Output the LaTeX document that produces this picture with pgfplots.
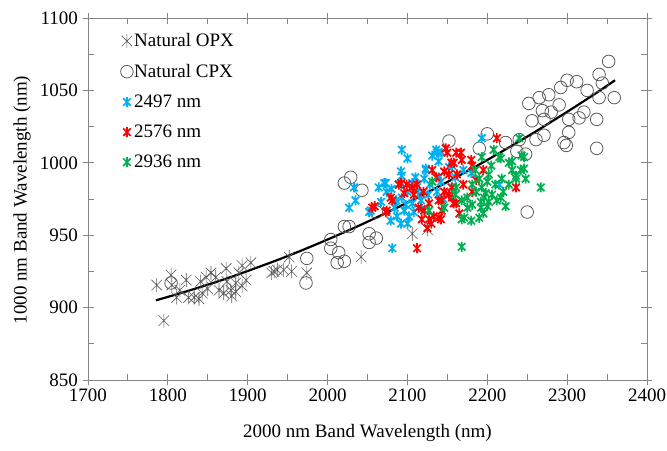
\documentclass[border=0pt]{standalone}
\usepackage{pgfplots}
\pgfplotsset{compat=1.18}
\usepackage{fontspec}
\setmainfont{Liberation Serif}
\definecolor{cblue}{HTML}{00B0F0}
\definecolor{cred}{HTML}{FF0000}
\definecolor{cgreen}{HTML}{00B050}
\definecolor{mgray}{HTML}{595959}
\definecolor{agray}{HTML}{868686}
\pgfdeclareplotmark{xstar}{%
  \pgfpathmoveto{\pgfqpoint{-0.75\pgfplotmarksize}{-0.75\pgfplotmarksize}}%
  \pgfpathlineto{\pgfqpoint{0.75\pgfplotmarksize}{0.75\pgfplotmarksize}}%
  \pgfpathmoveto{\pgfqpoint{-0.75\pgfplotmarksize}{0.75\pgfplotmarksize}}%
  \pgfpathlineto{\pgfqpoint{0.75\pgfplotmarksize}{-0.75\pgfplotmarksize}}%
  \pgfpathmoveto{\pgfqpoint{0pt}{-\pgfplotmarksize}}%
  \pgfpathlineto{\pgfqpoint{0pt}{\pgfplotmarksize}}%
  \pgfusepathqstroke}
\begin{document}%
\begin{tikzpicture}[font=\fontsize{19bp}{23bp}\selectfont]
\begin{axis}[
  scale only axis, width=559bp, height=362bp,
  xmin=1700, xmax=2400, ymin=850, ymax=1100,
  xtick={1700,1800,...,2400}, ytick={850,900,...,1100},
  minor x tick num=1, minor y tick num=1,
  tick align=inside, major tick length=6bp, minor tick length=6bp,
  extra x ticks={1700,1800,...,2400}, extra x tick labels={},
  extra y ticks={850,900,...,1100}, extra y tick labels={},
  extra tick style={tick align=outside, major tick length=5bp},
  axis line style={agray, line width=0.9bp},
  every tick/.style={agray, line width=0.9bp},
  /pgf/number format/assume math mode=true,
  /pgf/number format/1000 sep={},
  ticklabel style={font=\fontsize{19bp}{23bp}\selectfont, inner sep=0pt},
  xticklabel style={yshift=-9bp},
  yticklabel style={xshift=-10bp},
  xlabel={2000 nm Band Wavelength (nm)},
  ylabel={1000 nm Band Wavelength (nm)},
  xlabel style={at={(axis description cs:0.5,-0.146)}, anchor=center, font=\fontsize{19bp}{23bp}\selectfont},
  ylabel style={at={(axis description cs:-0.118,0.497)}, anchor=center, font=\fontsize{19bp}{23bp}\selectfont},
  legend style={at={(axis description cs:0.058,0.96)}, anchor=north west, draw=none, fill=none,
    font=\fontsize{19bp}{23bp}\selectfont, row sep=14bp, inner sep=0pt,
    nodes={inner sep=1bp}},
  legend cell align=left,
  legend image code/.code={\draw[#1] plot coordinates {(0.12cm,0cm)};},
  clip=false,
]
\addplot[only marks, mark=xstar, mark size=7bp, mgray, line width=0.6bp] coordinates {
(1786,915.6) (1795,891) (1804,922.5) (1805,915.6) (1811,907) (1823,919) (1826,907)
(1833,907) (1841,918) (1843,910) (1848,921) (1854,924) (1860,921) (1864,912)
(1873,927) (1874,918) (1879,912) (1885,917) (1889,924) (1893,929) (1898,919)
(1904,931) (1885,911) (1839,906) (1930,924) (1937,926) (1952,935) (1945,926)
(1933,925) (1955,925) (1974,924) (2042,935) (2106,951) (2125,954) (1870,910)
(1880,908) (1815,912) (1850,913) (1893,915)
};
\addlegendentry{Natural OPX}
\addplot[only marks, mark=o, mark size=6.3bp, mgray, line width=0.8bp] coordinates {
(1804,917) (1973,917) (1974,934) (2004,947) (2004,941) (2014,938) (2012,931)
(2021,932) (2021,956) (2027,956) (2029,990) (2021,986) (2043,981) (2061,966)
(2052,951) (2061,948) (2052,945) (2152,1015) (2190,1010) (2200,1020) (2223,1014)
(2240,1016) (2237,1008) (2248,1006) (2250,966) (2261,1016) (2271,1019) (2256,1029)
(2271,1030) (2296,1014) (2252,1041) (2265,1045) (2277,1047) (2269,1036) (2280,1035)
(2290,1040) (2292,1052) (2300,1057) (2312,1056) (2325,1050) (2340,1061) (2352,1070)
(2344,1055) (2340,1045) (2359,1045) (2302,1030) (2315,1031) (2321,1035) (2337,1030)
(2302,1021) (2299,1012) (2337,1010)
};
\addlegendentry{Natural CPX}
\addplot[only marks, mark=xstar, mark size=5bp, cblue, line width=1.7bp] coordinates {
(2093,1009) (2100,1003) (2092,994) (2033,983) (2035,974) (2027,969) (2064,983)
(2071,986) (2054,967) (2067,973) (2074,980) (2086,974) (2093,976) (2098,971)
(2087,963) (2092,958) (2102,963) (2081,941) (2123,995) (2121,989) (2131,1005)
(2137,1007) (2139,1001) (2112,983) (2114,978) (2106,972) (2108,966) (2117,974)
(2096,967) (2052,966) (2073,986) (2093,991) (2193,1017) (2143,1007) (2156,998)
(2142,987) (2215,985) (2136,1009) (2123,996) (2139,990) (2106,986) (2152,997)
(2155,983) (2137,980) (2080,982) (2090,985) (2100,980) (2110,990) (2128,985)
(2084,969) (2079,960) (2100,958) (2118,968) (2145,975) (2160,990) (2170,995)
(2180,993) (2126,978)
};
\addlegendentry{2497 nm}
\addplot[only marks, mark=xstar, mark size=5bp, cred, line width=1.7bp] coordinates {
(2148,1010) (2150,1007) (2056,969) (2074,967) (2079,976) (2089,985) (2099,985)
(2106,983) (2112,985) (2096,979) (2108,978) (2131,995) (2136,990) (2146,994)
(2152,992) (2114,969) (2121,967) (2127,961) (2118,961) (2133,963) (2139,962)
(2127,972) (2139,974) (2143,967) (2152,978) (2158,972) (2112,941) (2156,983)
(2158,1000) (2161,1007) (2059,970) (2073,966) (2081,974) (2092,986) (2212,1017)
(2167,1007) (2168,1002) (2155,1000) (2180,1002) (2181,998) (2162,992) (2186,988)
(2236,983) (2146,980) (2156,976) (2143,974) (2161,972) (2142,961) (2181,980)
(2125,955) (2130,958) (2170,985) (2195,995) (2120,980) (2165,965)
};
\addlegendentry{2576 nm}
\addplot[only marks, mark=xstar, mark size=5bp, cgreen, line width=1.7bp] coordinates {
(2240,1017) (2208,1009) (2215,1004) (2193,1004) (2227,1000) (2246,1004) (2231,995)
(2242,995) (2248,989) (2236,989) (2267,983) (2227,985) (2218,989) (2202,992)
(2190,989) (2200,987) (2193,983) (2181,985) (2186,980) (2175,976) (2198,979)
(2206,978) (2212,974) (2202,973) (2192,973) (2181,971) (2168,974) (2175,969)
(2192,969) (2200,970) (2217,976) (2168,961) (2171,962) (2190,962) (2168,942)
(2223,970) (2196,976) (2127,967) (2146,969) (2131,987) (2161,983) (2243,1005)
(2231,1001) (2217,1003) (2236,991) (2246,996) (2185,995) (2210,985) (2220,980)
(2195,965) (2180,960) (2160,978) (2205,998)
};
\addlegendentry{2936 nm}
\addplot[black, line width=2.2bp, smooth, forget plot] coordinates {
(1785,905.0) (1810,909.0) (1835,913.2) (1860,917.6) (1885,922.3) (1910,927.3)
(1935,932.4) (1960,937.8) (1985,943.5) (2010,949.4) (2035,955.5) (2060,961.9)
(2085,968.5) (2110,975.3) (2135,982.4) (2160,989.7) (2185,997.3) (2210,1005.1)
(2235,1013.2) (2260,1021.4) (2285,1030.0) (2310,1038.7) (2335,1047.7) (2360,1057.0)
};
\coordinate (ll) at (rel axis cs:0,0);
\coordinate (ur) at (rel axis cs:1,1);
\end{axis}
\pgfresetboundingbox
\path[use as bounding box] ([shift={(-88bp,-71bp)}]ll) rectangle ([shift={(20bp,18bp)}]ur);
\end{tikzpicture}%
\end{document}
